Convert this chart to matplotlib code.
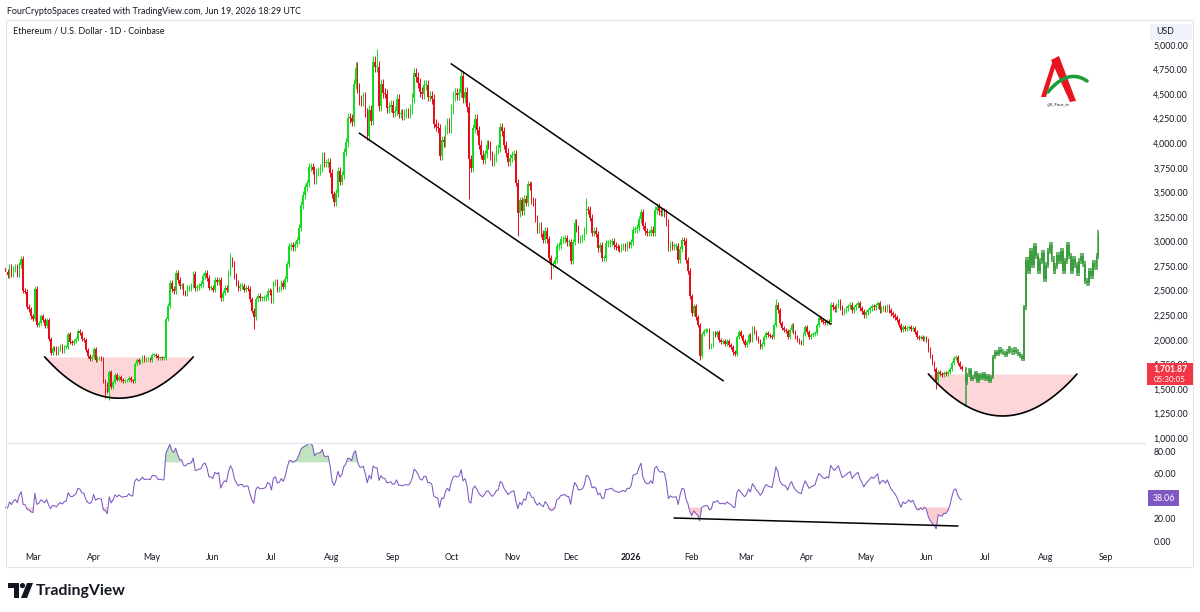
"""ETH/USD daily chart (TradingView look): candles, falling channel, two rounded
bottoms, projected bars and an RSI pane underneath. Saved as out.png, 1200x612."""
import matplotlib

matplotlib.use("Agg")
import matplotlib.dates as mdates
import matplotlib.pyplot as plt
import numpy as np
import pandas as pd
from matplotlib.patches import Circle, Polygon, Rectangle

# daily closes in USD (Jan 2025 only warms up the RSI, it is off-screen)
JAN25 = [3450, 3310, 3470, 3310, 3215, 3280, 3330, 3250, 3340, 3310, 3320, 3285, 3180, 3080,
         3120, 3250, 3300]
FEB25 = [3120, 2870, 2880, 2735, 2785, 2690, 2625, 2630, 2630, 2660, 2600, 2740, 2675, 2725,
         2690, 2660, 2745, 2670, 2720, 2740, 2665, 2765, 2820, 2500, 2490, 2335, 2310, 2240]
MAR25 = [2215, 2520, 2150, 2170, 2240, 2200, 2140, 2200, 2010, 1865, 1920, 1910, 1865, 1910,
         1935, 1890, 1925, 1930, 2055, 1980, 1965, 1985, 2005, 2085, 2070, 2010, 2000, 1895,
         1830, 1805, 1820]
APR25 = [1905, 1795, 1815, 1815, 1805, 1580, 1555, 1470, 1670, 1520, 1570, 1640, 1595, 1625,
         1590, 1575, 1585, 1585, 1615, 1585, 1580, 1755, 1795, 1770, 1785, 1820, 1795, 1800,
         1800, 1795]
MAY25 = [1840, 1840, 1835, 1810, 1815, 1810, 1810, 2210, 2345, 2580, 2515, 2495, 2680, 2610,
         2545, 2545, 2480, 2470, 2525, 2525, 2550, 2665, 2525, 2535, 2550, 2565, 2650, 2680,
         2630, 2530, 2530]
JUN25 = [2510, 2605, 2590, 2610, 2420, 2480, 2525, 2510, 2680, 2815, 2770, 2645, 2575, 2525,
         2545, 2545, 2510, 2525, 2520, 2410, 2295, 2230, 2410, 2450, 2420, 2420, 2425, 2435,
         2500, 2485]
JUL25 = [2405, 2570, 2590, 2510, 2520, 2575, 2540, 2615, 2770, 2950, 2960, 2940, 2975, 3010,
         3140, 3370, 3475, 3550, 3590, 3760, 3760, 3730, 3620, 3710, 3720, 3745, 3870, 3795,
         3795, 3805, 3695]
AUG25 = [3480, 3400, 3495, 3715, 3610, 3680, 3910, 4010, 4260, 4255, 4220, 4600, 4770, 4560,
         4440, 4425, 4475, 4310, 4075, 4340, 4230, 4830, 4780, 4780, 4380, 4600, 4510, 4505,
         4360, 4370, 4390]
SEP25 = [4310, 4330, 4450, 4300, 4300, 4280, 4305, 4310, 4305, 4350, 4460, 4710, 4670, 4610,
         4520, 4500, 4590, 4590, 4475, 4480, 4450, 4200, 4165, 4150, 3870, 4030, 4010, 4140,
         4215, 4145]
OCT25 = [4350, 4480, 4510, 4490, 4515, 4685, 4460, 4525, 4370, 3835, 3750, 4150, 4250, 4130,
         3985, 3885, 3830, 3890, 3985, 3980, 3875, 3805, 3855, 3935, 3950, 4160, 4120, 3980,
         3905, 3810, 3850]
NOV25 = [3875, 3890, 3600, 3290, 3420, 3310, 3435, 3395, 3580, 3565, 3420, 3400, 3230, 3120,
         3165, 3080, 3015, 3110, 3020, 2830, 2765, 2770, 2810, 2950, 2960, 3020, 3020, 3035,
         2990, 2990]
DEC25 = [2800, 2995, 3190, 3135, 3020, 3030, 3045, 3115, 3325, 3320, 3240, 3085, 3110, 3075,
         2930, 2960, 2830, 2830, 2980, 2980, 2990, 3000, 2960, 2945, 2935, 2930, 2945, 2950,
         2935, 2970, 2965]
JAN26 = [2995, 3120, 3125, 3140, 3225, 3295, 3160, 3105, 3085, 3085, 3120, 3090, 3320, 3355,
         3310, 3295, 3305, 3290, 3190, 2940, 2975, 2950, 2950, 2955, 2810, 2925, 3010, 3000,
         2815, 2700, 2440]
FEB26 = [2270, 2340, 2230, 2150, 1830, 2060, 2090, 2100, 2100, 1930, 1950, 2070, 2050, 2080,
         2000, 1980, 1990, 1960, 1990, 1950, 1930, 1870, 1850, 2030, 2080, 2040, 1990, 1950]
MAR26 = [1980, 2050, 2000, 2120, 2080, 2020, 1990, 1930, 1960, 2030, 2070, 2050, 2040, 2030,
         2150, 2355, 2300, 2170, 2120, 2100, 2090, 2030, 2100, 2150, 2080, 2030, 2000, 1980,
         1970, 2060, 2130]
APR26 = [2080, 2030, 2050, 2060, 2070, 2150, 2220, 2200, 2180, 2170, 2190, 2180, 2355, 2330,
         2310, 2350, 2385, 2330, 2280, 2300, 2320, 2340, 2355, 2300, 2330, 2350, 2370, 2320,
         2290, 2250]
MAY26 = [2280, 2300, 2320, 2340, 2330, 2350, 2370, 2300, 2320, 2330, 2310, 2335, 2300, 2270,
         2250, 2230, 2200, 2150, 2100, 2130, 2110, 2120, 2130, 2110, 2120, 2080, 2030, 2020,
         2030, 2010, 2020]
JUN26 = [2000, 1900, 1830, 1765, 1700, 1580, 1670, 1650, 1640, 1660, 1650, 1670, 1700, 1760,
         1815, 1825, 1760, 1720, 1701.87]

CLOSES = (JAN25 + FEB25 + MAR25 + APR25 + MAY25 + JUN25 + JUL25 + AUG25 + SEP25 + OCT25
          + NOV25 + DEC25 + JAN26 + FEB26 + MAR26 + APR26 + MAY26 + JUN26)
DATES = pd.date_range("2025-01-15", periods=len(CLOSES), freq="D")

# projected bars (bars-pattern drawing), Jun 21 - Aug 28 2026
PROJ_CLOSES = [1560, 1640, 1690, 1600, 1620, 1660, 1580, 1640, 1610, 1650, 1600, 1630, 1580, 1620,
               1820, 1870, 1850, 1900, 1880, 1860, 1840, 1880, 1910, 1890, 1870, 1900, 1880, 1850,
               1830, 1800,
               2330, 2810, 2700, 2900, 2760, 2950, 2850, 2700, 2800, 2880, 2620, 2760, 2900, 2960,
               2820, 2700, 2750, 2860, 2800, 2900, 2700, 2800, 2960, 2850, 2700, 2820, 2760, 2680,
               2800, 2850, 2770, 2600, 2580, 2700, 2650, 2780, 2740, 2850, 3080]
PROJ_DATES = pd.date_range("2026-06-21", periods=len(PROJ_CLOSES), freq="D")

# long wicks that stand out on the chart
WICK_HIGH = {"2025-02-23": 2850, "2025-03-02": 2550, "2025-06-10": 2880, "2025-08-13": 4790,
             "2025-08-24": 4955, "2025-12-09": 3440, "2026-03-16": 2410, "2026-08-28": 3100}
WICK_LOW = {"2025-02-03": 2150, "2025-04-07": 1410, "2025-04-09": 1385, "2025-06-22": 2110,
            "2025-10-10": 3435, "2025-11-04": 3060, "2025-11-21": 2620, "2026-02-05": 1790,
            "2026-06-06": 1495, "2026-06-21": 1315}

PRICE_TICKS = list(range(1000, 5001, 250))
RSI_TICKS = [0, 20, 60, 80]
MONTH_TICKS = ["2025-03-01", "2025-04-01", "2025-05-01", "2025-06-01", "2025-07-01", "2025-08-01",
               "2025-09-01", "2025-10-01", "2025-11-01", "2025-12-01", "2026-01-01", "2026-02-01",
               "2026-03-01", "2026-04-01", "2026-05-01", "2026-06-01", "2026-07-01", "2026-08-01",
               "2026-09-01"]
MONTH_LABELS = ["Mar", "Apr", "May", "Jun", "Jul", "Aug", "Sep", "Oct", "Nov", "Dec", "2026", "Feb",
                "Mar", "Apr", "May", "Jun", "Jul", "Aug", "Sep"]
LAST_PRICE = 1701.87
COUNTDOWN = "05:30:05"
RSI_LAST = 38.06

# drawings: (date, value)
CHANNEL_UP = [("2025-10-01", 4807), ("2026-04-13", 2160)]
CHANNEL_DN = [("2025-08-15", 4101), ("2026-02-17", 1583)]
BOWL_L = ("2025-03-07", "2025-05-22", 1825, 1405)
BOWL_R = ("2026-06-02", "2026-08-17", 1651, 1224)
RSI_TREND = [("2026-01-23", 20.7), ("2026-06-17", 13.6)]

UP, DN, PROJ = "#14dc1e", "#e50d19", "#3d9e41"
TXT = "#131722"
WICK_PAD = 0.011

plt.rcParams.update({"font.family": ["Lato", "DejaVu Sans"], "font.size": 6.5,
                     "text.color": TXT, "xtick.color": TXT, "ytick.color": TXT})


def num(d):
    return mdates.date2num(pd.to_datetime(d).to_pydatetime())


def ohlc(dates, closes, first_open):
    c = np.asarray(closes, float)
    o = np.r_[first_open, c[:-1]]
    hi = np.maximum(o, c) * (1 + WICK_PAD)
    lo = np.minimum(o, c) * (1 - WICK_PAD)
    for i, d in enumerate(dates.strftime("%Y-%m-%d")):
        if d in WICK_HIGH:
            hi[i] = max(hi[i], WICK_HIGH[d])
        if d in WICK_LOW:
            lo[i] = min(lo[i], WICK_LOW[d])
    return o, c, hi, lo


def candles(ax, dates, o, c, hi, lo, up, dn, width=0.75, lw=0.7):
    x = num(dates)
    col = np.where(c >= o, up, dn)
    ax.vlines(x, lo, hi, colors=col, lw=lw, zorder=3)
    ax.bar(x, np.maximum(np.abs(c - o), 10), width=width, bottom=np.minimum(o, c),
           color=col, lw=0, zorder=3)


def bowl(ax, start, end, top, bottom):
    x0, x1 = num(start), num(end)
    xs = np.linspace(x0, x1, 120)
    u = (xs - (x0 + x1) / 2) / ((x1 - x0) / 2)
    ys = bottom + (top - bottom) * u ** 2
    ax.fill_between(xs, ys, top, color="#f23645", alpha=0.2, lw=0, zorder=1)
    ax.plot(xs, ys, color="black", lw=1.2, zorder=4, solid_capstyle="round")


fig = plt.figure(figsize=(12, 6.12), dpi=100, facecolor="white")
W, H = 1200, 612
ax_p = fig.add_axes([5 / W, 1 - 442 / H, 1140 / W, 422 / H])
ax_r = fig.add_axes([5 / W, 1 - 546 / H, 1140 / W, 103 / H], sharex=ax_p)

mar1 = num("2025-03-01")
ax_p.set_xlim(mar1 - 14.3, mar1 + 568.8)
ax_p.set_ylim(959, 5254)
ax_r.set_ylim(-4.1, 87.1)

# candles + projection
o, c, hi, lo = ohlc(DATES, CLOSES, CLOSES[0])
candles(ax_p, DATES, o, c, hi, lo, UP, DN)
po, pc, phi, plo = ohlc(PROJ_DATES, PROJ_CLOSES, CLOSES[-1])
candles(ax_p, PROJ_DATES, po, pc, phi, plo, PROJ, PROJ, width=0.95, lw=1.1)

# drawings
for (d0, v0), (d1, v1) in (CHANNEL_UP, CHANNEL_DN):
    ax_p.plot([num(d0), num(d1)], [v0, v1], color="black", lw=1.1, zorder=4)
bowl(ax_p, *BOWL_L)
bowl(ax_p, *BOWL_R)

# RSI(14), Wilder smoothing
s = pd.Series(CLOSES, index=DATES, dtype=float)
delta = s.diff()
gain = delta.clip(lower=0).ewm(alpha=1 / 14, adjust=False).mean()
loss = (-delta).clip(lower=0).ewm(alpha=1 / 14, adjust=False).mean()
rsi = (100 - 100 / (1 + gain / loss)).to_numpy()
xr = num(DATES)
ax_r.plot(xr, rsi, color="#7e57c2", lw=0.75, zorder=3)
ax_r.fill_between(xr, 70, rsi, where=rsi > 70, interpolate=True, color="#4caf50", alpha=0.35, lw=0)
ax_r.fill_between(xr, 30, rsi, where=rsi < 30, interpolate=True, color="#f23645", alpha=0.25, lw=0)
(d0, v0), (d1, v1) = RSI_TREND
ax_r.plot([num(d0), num(d1)], [v0, v1], color="black", lw=1.1, zorder=4)

# axes styling
for ax in (ax_p, ax_r):
    for sp in ax.spines.values():
        sp.set_visible(False)
    ax.yaxis.tick_right()
    ax.tick_params(axis="y", length=0, pad=6, labelsize=6.3)
ax_p.set_yticks(PRICE_TICKS, [f"{v:,.2f}" for v in PRICE_TICKS])
ax_r.set_yticks(RSI_TICKS, [f"{v:.2f}" for v in RSI_TICKS])
ax_p.tick_params(axis="x", bottom=False, labelbottom=False)
ax_r.set_xticks(num(MONTH_TICKS), MONTH_LABELS)
ax_r.tick_params(axis="x", length=0, pad=5, labelsize=6.3)
for t in ax_r.get_xticklabels():
    if t.get_text() == "2026":
        t.set_fontweight("bold")

# overlay in pixel coordinates for frame, labels and logos
ov = fig.add_axes([0, 0, 1, 1], zorder=10)
ov.set_xlim(0, W)
ov.set_ylim(H, 0)
ov.axis("off")


def py(ax, v):
    return H - ax.transData.transform((ax.get_xlim()[0], v))[1]


ov.add_patch(Rectangle((6, 20), 1187, 547, fill=False, ec="#e0e3eb", lw=0.8))
ov.plot([6, 1145], [442.5, 442.5], color="#e0e3eb", lw=0.8)

ov.text(7, 11, "FourCryptoSpaces created with TradingView.com, Jun 19, 2026 18:29 UTC",
        fontsize=6.4, va="center", ha="left")
ov.text(13, 31, "Ethereum / U.S. Dollar \u00b7 1D \u00b7 Coinbase", fontsize=6.5, va="center")

ov.add_patch(Rectangle((1150, 24), 42, 16, fc="#f0f3fa", ec="none"))
ov.text(1165, 32, "USD", fontsize=6.3, va="center", ha="center")

yp = py(ax_p, LAST_PRICE)
ov.add_patch(Rectangle((1147, yp - 6), 46, 22, fc="#f23645", ec="none"))
ov.text(1170, yp, f"{LAST_PRICE:,.2f}", color="white", fontsize=6.2, fontweight="bold",
        ha="center", va="center")
ov.text(1170, yp + 10, COUNTDOWN, color="white", fontsize=5.8, ha="center", va="center")

yr = py(ax_r, RSI_LAST)
ov.add_patch(Rectangle((1148, yr - 8), 31, 16, fc="#7e57c2", ec="none"))
ov.text(1163.5, yr, f"{RSI_LAST:.2f}", color="white", fontsize=6.3, ha="center", va="center")

# watermark logo (top right)
ov.add_patch(Polygon([(1041, 97), (1053, 60), (1057, 61), (1046, 97)], fc="#e8141f", ec="none"))
ov.add_patch(Polygon([(1051, 60), (1059, 56), (1076, 101), (1070, 102)], fc="#e8141f", ec="none"))
t = np.linspace(0, 1, 40)
bx = (1 - t) ** 2 * 1048 + 2 * (1 - t) * t * 1068 + t ** 2 * 1087
by = (1 - t) ** 2 * 92 + 2 * (1 - t) * t * 68 + t ** 2 * 81
ov.plot(bx, by, color="#1f9d3a", lw=2.6, solid_capstyle="round")
ov.text(1058, 104, "@X_Four_tv", fontsize=3.2, ha="center", va="center")

# TradingView footer
ov.add_patch(Polygon([(8, 583), (19, 583), (19, 598), (14, 598), (14, 588), (8, 588)],
                     fc=TXT, ec="none"))
ov.add_patch(Circle((22.5, 585.6), 2.6, fc=TXT, ec="none"))
ov.add_patch(Polygon([(27, 583), (33, 583), (27, 598), (21, 598)], fc=TXT, ec="none"))
ov.text(36, 590.5, "TradingView", fontsize=11.3, fontweight="bold", va="center", ha="left")

fig.savefig("out.png", dpi=100, facecolor="white")
